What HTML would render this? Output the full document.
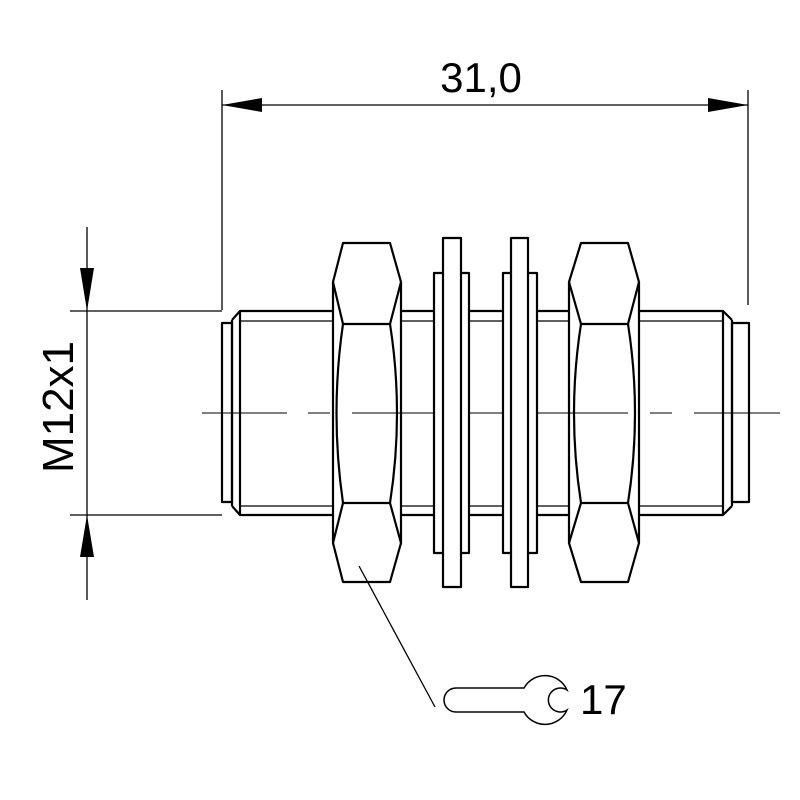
<!DOCTYPE html>
<html><head><meta charset="utf-8"><style>html,body{margin:0;padding:0;background:#fff}svg{display:block}</style></head>
<body>
<svg width="800" height="800" viewBox="0 0 800 800" xmlns="http://www.w3.org/2000/svg">
<g fill="none" stroke="#000" stroke-width="1.3">
<line x1="222" y1="90" x2="222" y2="310"/>
<line x1="748" y1="90" x2="748" y2="305"/>
<line x1="222" y1="105" x2="748" y2="105"/>
<line x1="87" y1="227" x2="87" y2="600"/>
<line x1="70" y1="311" x2="222" y2="311"/>
<line x1="70" y1="515" x2="222" y2="515"/>
<path d="M202 413 H287 M308 413 H330 M352 413 H628 M650 413 H672 M694 413 H780" stroke-width="1"/>
<line x1="359" y1="566" x2="435" y2="707"/>
</g>
<g fill="#000">
<polygon points="222,105 262,98 262,112"/>
<polygon points="748,105 708,98 708,112"/>
<polygon points="87,311 80,268 94,268"/>
<polygon points="87,515 80,557 94,557"/>
</g>
<g fill="none" stroke="#000" stroke-width="2.2" stroke-linejoin="round">
<path d="M232 320 L240 311 H333 M401 311 H434 M469 311 H503 M537 311 H569 M639 311 H723 L732 320"/>
<path d="M240 321 H333 M401 321 H434 M469 321 H503 M537 321 H569 M639 321 H723" stroke-width="1.3"/>
<path d="M232 506 L240 515 H333 M401 515 H434 M469 515 H503 M537 515 H569 M639 515 H723 L732 506"/>
<path d="M240 506 H333 M401 506 H434 M469 506 H503 M537 506 H569 M639 506 H723" stroke-width="1.3"/>
<line x1="240" y1="311" x2="240" y2="515"/>
<line x1="232" y1="320" x2="232" y2="506"/>
<line x1="723" y1="311" x2="723" y2="515"/>
<line x1="732" y1="320" x2="732" y2="506"/>
<rect x="222" y="323" width="10" height="179"/>
<rect x="732" y="323" width="17" height="179"/>
<path d="M343 243 H390 L401 282 V543 L390 582 H343 L333 543 V282 Z"/>
<path d="M333 282 L343 324 H390 L401 282 M333 543 L343 503 H390 L401 543"/>
<path d="M343 324 Q330 413 343 503 M390 324 Q404 413 390 503"/>
<path d="M581 243 H628 L639 282 V543 L628 582 H581 L569 543 V282 Z"/>
<path d="M569 282 L581 324 H628 L639 282 M569 543 L581 503 H628 L639 543"/>
<path d="M581 324 Q567 413 581 503 M628 324 Q642 413 628 503"/>
<rect x="434" y="273" width="35" height="280" fill="#fff"/>
<rect x="443" y="238" width="18" height="349" fill="#fff"/>
<rect x="503" y="273" width="34" height="280" fill="#fff"/>
<rect x="511" y="238" width="17" height="349" fill="#fff"/>
</g>
<path d="M524 688 H456 A12 12 0 0 0 456 712 H524 A24 24 0 0 0 567 710 A12 12 0 1 1 567 690 A24 24 0 0 0 524 688 Z" fill="none" stroke="#000" stroke-width="1.5"/>
<g font-family="Liberation Sans, Arial, sans-serif" fill="#000">
<text x="481" y="92" font-size="42" text-anchor="middle">31,0</text>
<text x="580" y="714" font-size="42">17</text>
<text transform="translate(73,407) rotate(-90)" font-size="44" text-anchor="middle">M12x1</text>
</g>
</svg>
</body></html>
